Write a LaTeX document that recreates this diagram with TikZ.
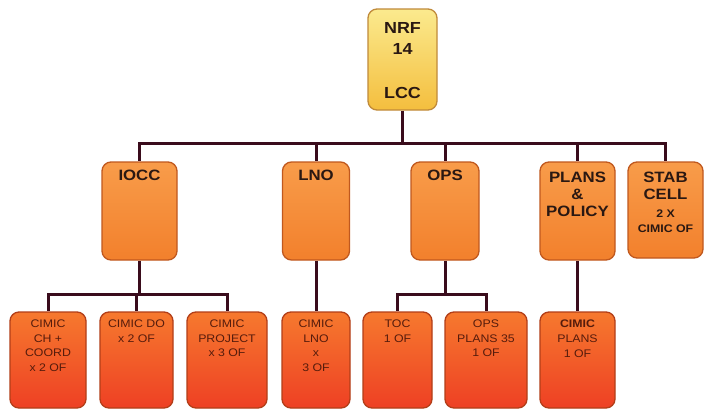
\documentclass[tikz,border=0pt]{standalone}
\usepackage{fontspec}
\setmainfont{Liberation Sans}
\newfontfamily\labfont[FakeStretch=1.12]{Liberation Sans}
\usetikzlibrary{backgrounds}
\definecolor{nrftop}{HTML}{FBEA8E}
\definecolor{nrfbot}{HTML}{F4BE3E}
\definecolor{nrfedge}{HTML}{C08A3A}
\definecolor{midtop}{HTML}{F89C4A}
\definecolor{midbot}{HTML}{F2802C}
\definecolor{midedge}{HTML}{C0581E}
\definecolor{lowtop}{HTML}{F6792E}
\definecolor{lowbot}{HTML}{EE4024}
\definecolor{lowedge}{HTML}{B23E18}
\definecolor{connc}{HTML}{3A0C1C}
\definecolor{midtxt}{HTML}{2A1812}
\definecolor{lowtxt}{HTML}{561C0C}
\begin{document}
\begin{tikzpicture}[x=1pt,y=-1pt,
  box/.style={draw, rounded corners=9pt, line width=1.3pt, inner sep=0pt},
  topbox/.style={box, draw=nrfedge, top color=nrftop, bottom color=nrfbot,
    minimum width=69pt, minimum height=101pt},
  midbox/.style={box, draw=midedge, top color=midtop, bottom color=midbot,
    minimum height=98pt},
  lowbox/.style={box, draw=lowedge, top color=lowtop, bottom color=lowbot,
    minimum height=96pt},
  bigtxt/.style={anchor=north, inner sep=0pt, align=center, text=midtxt,
    font=\labfont\bfseries\fontsize{15}{17}\selectfont},
  toptxt/.style={bigtxt, font=\labfont\bfseries\fontsize{16}{21.7}\selectfont},
  smalltxt/.style={anchor=north, inner sep=0pt, align=center, text=lowtxt,
    font=\labfont\fontsize{11}{14.5}\selectfont},
  stabtxt/.style={anchor=north, inner sep=0pt, align=center, text=midtxt,
    font=\labfont\bfseries\fontsize{11}{15}\selectfont},
  conn/.style={draw=connc, line width=3pt}]
\begin{scope}[on background layer]
  \fill[white] (0,0) rectangle (706,410);
\end{scope}
\useasboundingbox (0,0) rectangle (706,410);

% boxes
\node[topbox] (nrf) at (402.5,59.5) {};
\node[midbox, minimum width=75pt] (iocc) at (139.5,211) {};
\node[midbox, minimum width=67pt] (lno) at (316,211) {};
\node[midbox, minimum width=68pt] (ops) at (445,211) {};
\node[midbox, minimum width=75pt] (plans) at (577.5,211) {};
\node[midbox, minimum width=75pt, minimum height=96pt] (stab) at (665.5,210) {};

\node[lowbox, minimum width=76pt] (c1) at (48,360) {};
\node[lowbox, minimum width=73pt] (c2) at (136.5,360) {};
\node[lowbox, minimum width=80pt] (c3) at (227,360) {};
\node[lowbox, minimum width=68pt] (c4) at (316,360) {};
\node[lowbox, minimum width=69pt] (c5) at (397.5,360) {};
\node[lowbox, minimum width=82pt] (c6) at (486,360) {};
\node[lowbox, minimum width=75pt] (c7) at (577.5,360) {};

% texts
\node[toptxt] (tnrf) at (402.5,22) {NRF\\14\\\strut\\LCC};
\node[bigtxt] (tiocc) at (139.5,170) {IOCC};
\node[bigtxt] (tlno) at (316,170) {LNO};
\node[bigtxt] (tops) at (445,170) {OPS};
\node[bigtxt] (tplans) at (577.5,172) {PLANS\\\&\\POLICY};
\node[bigtxt] (tstab) at (665.5,172) {STAB\\CELL};
\node[stabtxt] (tstab2) at (665.5,210) {2 X\\CIMIC OF};

\node[smalltxt] (tc1) at (48,320) {CIMIC\\CH +\\COORD\\x 2 OF};
\node[smalltxt] (tc2) at (136.5,320) {CIMIC DO\\x 2 OF};
\node[smalltxt] (tc3) at (227,320) {CIMIC\\PROJECT\\x 3 OF};
\node[smalltxt] (tc4) at (316,320) {CIMIC\\LNO\\x\\3 OF};
\node[smalltxt] (tc5) at (397.5,320) {TOC\\1 OF};
\node[smalltxt] (tc6) at (486,320) {OPS\\PLANS 35\\1 OF};
\node[stabtxt, text=lowtxt] (tc7) at (577.5,320) {CIMIC\\[-0.5pt]\mdseries PLANS\\\mdseries 1 OF};

% connectors
\coordinate (bt) at (402.5,143);
\coordinate (bi) at (139.5,294);
\coordinate (bo) at (445,294);
\begin{scope}[on background layer]
  \draw[conn] (nrf.south) -- (bt);
  \foreach \n in {iocc,lno,ops,plans,stab} \draw[conn] (bt) -| (\n.north);
  \draw[conn] (iocc.south) -- (bi);
  \foreach \n in {c1,c2,c3} \draw[conn] (bi) -| (\n.north);
  \draw[conn] (lno.south) -- (c4.north);
  \draw[conn] (ops.south) -- (bo);
  \foreach \n in {c5,c6} \draw[conn] (bo) -| (\n.north);
  \draw[conn] (plans.south) -- (c7.north);
\end{scope}
\end{tikzpicture}
\end{document}
